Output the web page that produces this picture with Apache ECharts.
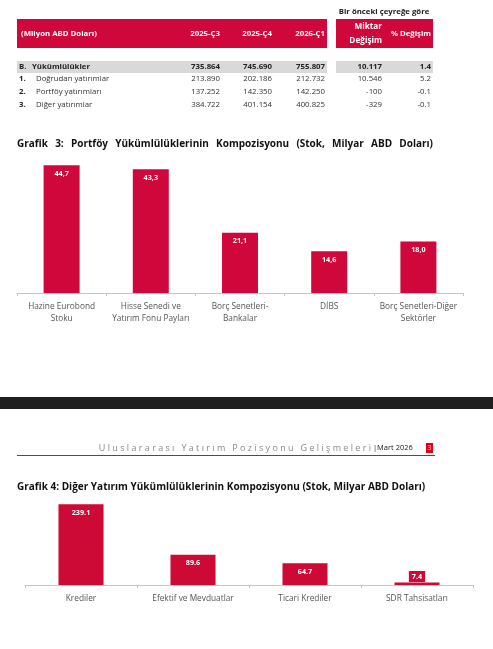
<!DOCTYPE html>
<html>
<head>
<meta charset="utf-8">
<script src="https://cdn.jsdelivr.net/npm/echarts@6/dist/echarts.min.js"></script>
<style>
html,body{margin:0;padding:0;background:#fff;}
#c{width:493px;height:649px;}
</style>
</head>
<body>
<div id="c"></div>
<script>
// ---- Table data ----
const tableGroupTitle = 'Bir önceki çeyreğe göre';
const tableUnit = '(Milyon ABD Doları)';
const tablePeriods = ['2025-Ç3', '2025-Ç4', '2026-Ç1'];
const tableChangeHeaders = [['Miktar', 'Değişim'], '% Değişim'];
const rowNums = ['B.', '1.', '2.', '3.'];
const rowLabels = ['Yükümlülükler', 'Doğrudan yatırımlar', 'Portföy yatırımları', 'Diğer yatırımlar'];
const rowQ3 = ['735.864', '213.890', '137.252', '384.722'];
const rowQ4 = ['745.690', '202.186', '142.350', '401.154'];
const rowQ1 = ['755.807', '212.732', '142.250', '400.825'];
const rowChg = ['10.117', '10.546', '-100', '-329'];
const rowPct = ['1.4', '5.2', '-0.1', '-0.1'];

// ---- Chart 3 data ----
const chart3Title = 'Grafik 3: Portföy Yükümlülüklerinin Kompozisyonu (Stok, Milyar ABD Doları)';
const chart3Categories = ['Hazine Eurobond\nStoku', 'Hisse Senedi ve\nYatırım Fonu Payları', 'Borç Senetleri-\nBankalar', 'DİBS', 'Borç Senetleri-Diğer\nSektörler'];
const chart3Values = [44.7, 43.3, 21.1, 14.6, 18.0];
const chart3Labels = ['44,7', '43,3', '21,1', '14,6', '18,0'];

// ---- Chart 4 data ----
const chart4Title = 'Grafik 4: Diğer Yatırım Yükümlülüklerinin Kompozisyonu (Stok, Milyar ABD Doları)';
const chart4Categories = ['Krediler', 'Efektif ve Mevduatlar', 'Ticari Krediler', 'SDR Tahsisatları'];
const chart4Values = [239.1, 89.6, 64.7, 7.4];
const chart4Labels = ['239.1', '89.6', '64.7', '7.4'];

// ---- Footer ----
const footerTitle = 'Uluslararası Yatırım Pozisyonu Gelişmeleri';
const footerDate = '|Mart 2026';
const footerPage = '3';

const RED = '#d0073a';
const FONT = '"Open Sans", "Noto Sans", sans-serif';

const chart = echarts.init(document.getElementById('c'), null, {renderer: 'canvas'});

const g = [];
function txt(x, y, text, opt) {
  g.push({type: 'text', x: x, y: y, silent: true, style: Object.assign({
    text: text, fontFamily: FONT, fontSize: 7.8, fill: '#333',
    textAlign: 'left', textVerticalAlign: 'middle'
  }, opt || {})});
}
function rect(x, y, w, h, fill) {
  g.push({type: 'rect', silent: true, shape: {x: x, y: y, width: w, height: h}, style: {fill: fill}});
}
// justified text: spread words between x0 and x1
const mctx = document.createElement('canvas').getContext('2d');
function justified(x0, x1, y, text, opt) {
  const words = text.split(' ');
  mctx.font = (opt.fontWeight || 'normal') + ' ' + opt.fontSize + 'px ' + FONT;
  const widths = words.map(w => mctx.measureText(w).width);
  const total = widths.reduce((a, b) => a + b, 0);
  const gap = (x1 - x0 - total) / (words.length - 1);
  let x = x0;
  words.forEach((w, i) => { txt(x, y, w, opt); x += widths[i] + gap; });
}

// table
txt(384, 12, tableGroupTitle, {fontWeight: 'bold', textAlign: 'center', fill: '#222'});
rect(17, 19, 310, 29, RED);
rect(336, 19, 97, 29, RED);
txt(21, 34, tableUnit, {fontWeight: 'bold', fill: '#fff'});
const colX = [220, 272, 325];
tablePeriods.forEach((p, i) => txt(colX[i], 34, p, {fontWeight: 'bold', fill: '#fff', textAlign: 'right'}));
txt(382, 27, tableChangeHeaders[0][0], {fontWeight: 'bold', fill: '#fff', textAlign: 'right', fontSize: 8.2});
txt(382, 41, tableChangeHeaders[0][1], {fontWeight: 'bold', fill: '#fff', textAlign: 'right', fontSize: 8.2});
txt(431, 34, tableChangeHeaders[1], {fontWeight: 'bold', fill: '#fff', textAlign: 'right'});
rect(17, 61, 310, 12, '#d9d9d9');
rect(336, 61, 97, 12, '#d9d9d9');
const rowY = [67, 79, 92, 105];
rowLabels.forEach((l, i) => {
  const b = i === 0 ? {fontWeight: 'bold', fill: '#222'} : {};
  txt(19, rowY[i], rowNums[i], {fontWeight: 'bold', fill: '#222'});
  txt(i === 0 ? 32 : 36, rowY[i], l, b);
  txt(220, rowY[i], rowQ3[i], Object.assign({textAlign: 'right'}, b));
  txt(272, rowY[i], rowQ4[i], Object.assign({textAlign: 'right'}, b));
  txt(325, rowY[i], rowQ1[i], Object.assign({textAlign: 'right'}, b));
  txt(382, rowY[i], rowChg[i], Object.assign({textAlign: 'right'}, b));
  txt(431, rowY[i], rowPct[i], Object.assign({textAlign: 'right'}, b));
});

// titles
justified(17, 433, 144, chart3Title, {fontWeight: 'bold', fontSize: 10, fill: '#111'});
txt(17, 487, chart4Title, {fontWeight: 'bold', fontSize: 10, fill: '#111'});

// black band & footer
rect(0, 397, 493, 12, '#1f1f1f');
txt(371, 448, footerTitle.split('').join(' '), {fontSize: 9, fill: '#8a8a8a', textAlign: 'right'});
txt(373, 448, footerDate, {fontSize: 7.5, fill: '#222'});
rect(426, 443, 7, 10, '#e0001b');
txt(429.5, 448, footerPage, {fontSize: 7, fill: '#ffc8c8', textAlign: 'center'});
g.push({type: 'line', silent: true, shape: {x1: 17, y1: 455.5, x2: 435, y2: 455.5}, style: {stroke: '#d11', lineWidth: 1}});

const axisCommon = {
  type: 'category',
  axisLine: {lineStyle: {color: '#c4c4c4', width: 1}},
  axisTick: {show: true, length: 3, lineStyle: {color: '#c4c4c4'}},
  axisLabel: {fontFamily: FONT, fontSize: 8.3, color: '#555', lineHeight: 12, interval: 0, margin: 8},
};

chart.setOption({
  animation: false,
  grid: [
    {left: 17, right: 30, top: 150, bottom: 356},
    {left: 25, right: 20, top: 500.6, bottom: 64}
  ],
  xAxis: [
    Object.assign({}, axisCommon, {gridIndex: 0, data: chart3Categories}),
    Object.assign({}, axisCommon, {gridIndex: 1, data: chart4Categories})
  ],
  yAxis: [
    {gridIndex: 0, type: 'value', min: 0, max: 50, show: false, splitLine: {show: false}},
    {gridIndex: 1, type: 'value', min: 0, max: 250, show: false, splitLine: {show: false}}
  ],
  series: [
    {
      type: 'bar', xAxisIndex: 0, yAxisIndex: 0, barWidth: 36,
      itemStyle: {color: RED},
      data: chart3Values,
      label: {show: true, position: 'insideTop', distance: 5, color: '#fff', fontWeight: 'bold', fontSize: 7.2, fontFamily: FONT,
        formatter: p => chart3Labels[p.dataIndex]}
    },
    {
      type: 'bar', xAxisIndex: 1, yAxisIndex: 1, barWidth: 45,
      itemStyle: {color: '#cc0a35'},
      data: chart4Values.map((v, i) => i === chart4Values.length - 1 ? {
        value: v,
        label: {position: 'top', distance: 0.5, backgroundColor: '#cc0a35', padding: [2, 3, 2, 3]}
      } : v),
      label: {show: true, position: 'insideTop', distance: 5, color: '#fff', fontWeight: 'bold', fontSize: 7.2, fontFamily: FONT,
        formatter: p => chart4Labels[p.dataIndex]}
    }
  ],
  graphic: g
});
</script>
</body>
</html>
